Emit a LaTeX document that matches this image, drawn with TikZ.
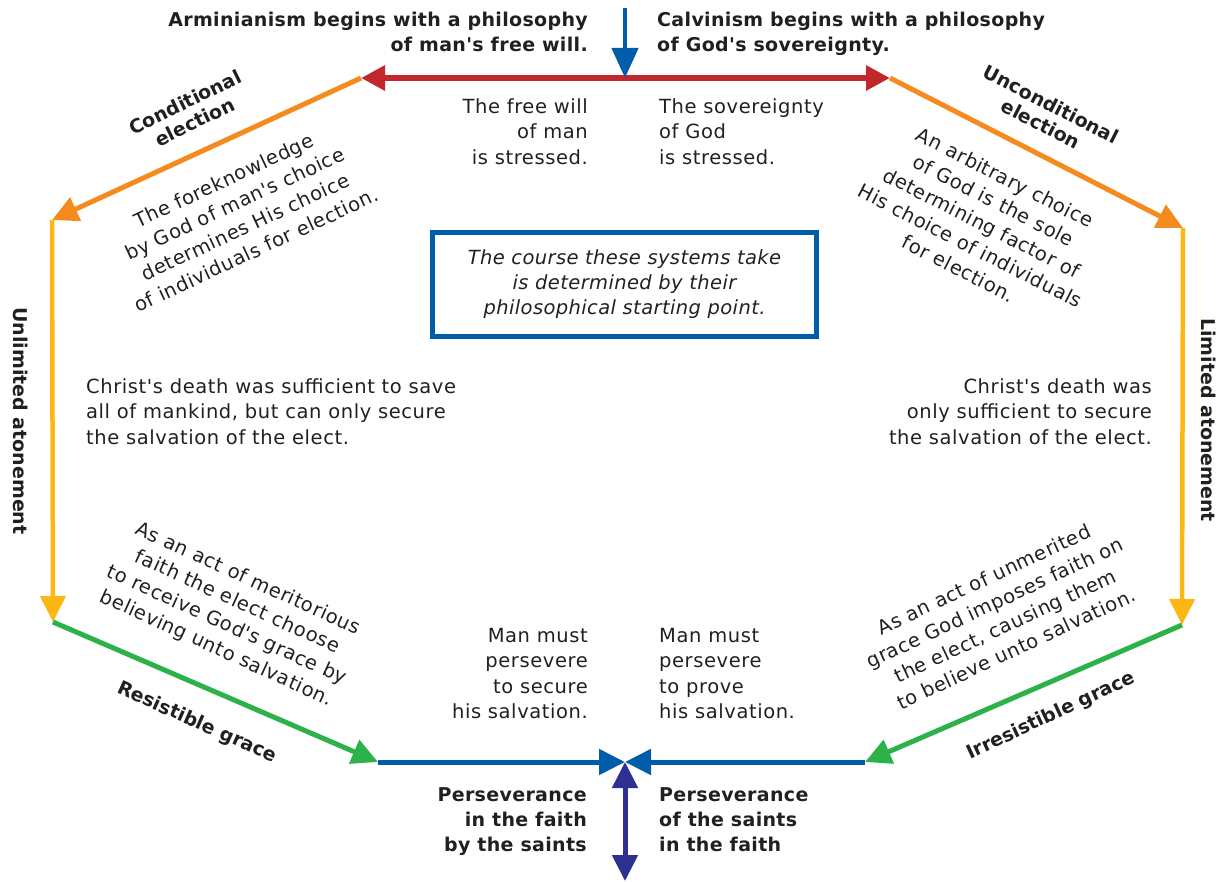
\documentclass[tikz,border=0pt]{standalone}
\usepackage{fontspec}
\setmainfont{DejaVu Sans}[Ligatures=TeXOff, LetterSpace=3, BoldFeatures={LetterSpace=1.8}, ItalicFeatures={LetterSpace=2}]
\newfontfamily\labfont{DejaVu Sans}[Ligatures=TeXOff]
\usetikzlibrary{arrows.meta}
\definecolor{cred}{HTML}{C1272D}
\definecolor{corange}{HTML}{F58A1F}
\definecolor{cyellow}{HTML}{FDB714}
\definecolor{cgreen}{HTML}{2DB24A}
\definecolor{cblue}{HTML}{005DAA}
\definecolor{cnavy}{HTML}{2E3192}
\definecolor{ctext}{HTML}{231F20}
\begin{document}
\begin{tikzpicture}[x=1pt,y=-1pt,
  conn/.style={line width=5pt},
  tipend/.style={-{Triangle[length=26pt,width=25pt]}},
  body/.style={font=\fontsize{19.5}{25.5}\selectfont, text=ctext, inner sep=0pt},
  bodyb/.style={font=\fontsize{19}{25.3}\selectfont\bfseries, text=ctext, inner sep=0pt},
  lab/.style={font=\fontsize{19}{22}\selectfont\labfont\bfseries, text=ctext, inner sep=0pt, align=center},
  boxtext/.style={font=\fontsize{19.5}{25}\selectfont\itshape, text=ctext, align=center}
]
\useasboundingbox (0,0) rectangle (1224,882);

% corner coordinates
\coordinate (top) at (625,8);
\coordinate (c) at (625,78);
\coordinate (tl) at (361,78);
\coordinate (tr) at (890,78);
\coordinate (ul) at (52,220);
\coordinate (ur) at (1183,228);
\coordinate (ll) at (53,622);
\coordinate (lr) at (1182,625);
\coordinate (bl) at (378,762);
\coordinate (br) at (865,762);
\coordinate (bc) at (625,762);
\coordinate (bot) at (625,881);

% connectors
\draw[line width=6pt, cred, -{Triangle[length=24pt,width=24pt]}] (c) -- (tl);
\draw[line width=6pt, cred, -{Triangle[length=24pt,width=24pt]}] (c) -- (tr);
\draw[conn, corange, tipend] (tl) -- (ul);
\draw[conn, corange, tipend] (tr) -- (ur);
\draw[line width=4.5pt, cyellow, tipend] (ul) -- (ll);
\draw[line width=4.5pt, cyellow, tipend] (ur) -- (lr);
\draw[conn, cgreen, tipend] (ll) -- (bl);
\draw[conn, cgreen, tipend] (lr) -- (br);
\draw[conn, cblue, tipend] (bl) -- (bc);
\draw[conn, cblue, tipend] (br) -- (bc);
\draw[conn, cnavy, {Triangle[length=26pt,width=25pt]}-{Triangle[length=26pt,width=25pt]}] (bc) -- (bot);
\draw[line width=4.5pt, cblue, -{Triangle[length=30pt,width=26pt]}] (top) -- (c);

% top texts
\node[bodyb, align=right, anchor=north east] (armin) at (588,11.5) {Arminianism begins with a philosophy\\of man's free will.};
\node[bodyb, align=left, anchor=north west] (calv) at (657,11.5) {Calvinism begins with a philosophy\\of God's sovereignty.};
\node[body, align=right, anchor=north east] (freewill) at (588,98) {The free will\\of man\\is stressed.};
\node[body, align=left, anchor=north west] (sov) at (659,98) {The sovereignty\\of God\\is stressed.};

% center box
\node[boxtext, draw=cblue, line width=4.5pt, minimum width=384pt, minimum height=104pt, inner sep=0pt] (box) at (624.5,284.5) {The course these systems take\\is determined by their\\philosophical starting point.};

% election
\node[lab, rotate=26] (cond) at (190,112) {Conditional\\election};
\node[body, rotate=25, align=center] (foreknow) at (240,215) {The foreknowledge\\by God of man's choice\\determines His choice\\of individuals for election.};
\node[lab, rotate=-27] (uncond) at (1046,114) {Unconditional\\election};
\node[body, rotate=-27, align=center] (arb) at (982,223) {An arbitrary choice\\of God is the sole\\determining factor of\\His choice of individuals\\for election.};

% atonement
\node[lab, rotate=-90] (unlim) at (21,421) {Unlimited atonement};
\node[lab, rotate=-90] (lim) at (1209,420) {Limited atonement};
\node[body, align=left, anchor=north west] (cdl) at (86,378) {Christ's death was sufficient to save\\all of mankind, but can only secure\\the salvation of the elect.};
\node[body, align=right, anchor=north east] (cdr) at (1152,378) {Christ's death was\\only sufficient to secure\\the salvation of the elect.};

% grace
\node[body, rotate=-24.5, align=center] (merit) at (232,614) {As an act of meritorious\\faith the elect choose\\to receive God's grace by\\believing unto salvation.};
\node[lab, rotate=-24] (resist) at (197,723) {Resistible grace};
\node[body, rotate=25, align=center] (unmer) at (1000,614) {As an act of unmerited\\grace God imposes faith on\\the elect, causing them\\to believe unto salvation.};
\node[lab, rotate=25] (irres) at (1051,716) {Irresistible grace};

% perseverance
\node[body, align=right, anchor=north east] (mml) at (588,628) {Man must\\persevere\\to secure\\his salvation.};
\node[body, align=left, anchor=north west] (mmr) at (659,628) {Man must\\persevere\\to prove\\his salvation.};
\node[bodyb, align=right, anchor=north east] (perl) at (587,787) {Perseverance\\in the faith\\by the saints};
\node[bodyb, align=left, anchor=north west] (perr) at (659,787) {Perseverance\\of the saints\\in the faith};
\end{tikzpicture}
\end{document}
